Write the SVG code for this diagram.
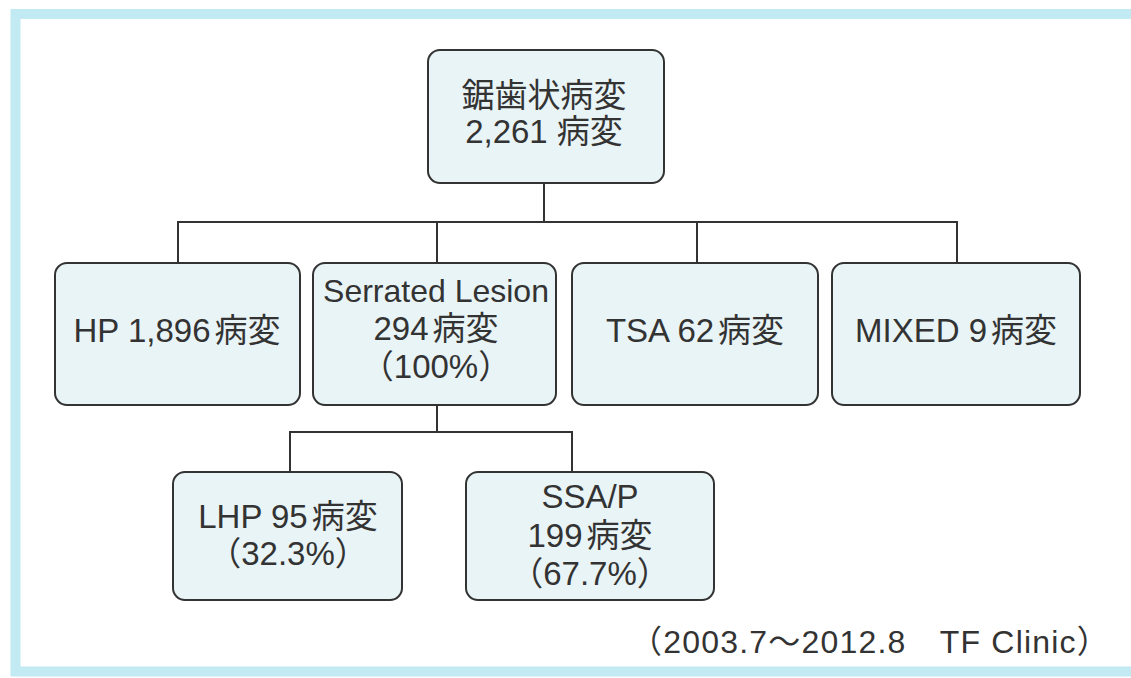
<svg xmlns="http://www.w3.org/2000/svg" width="1131" height="678" viewBox="0 0 1131 678">
<style>
.box{fill:#e9f4f6;stroke:#333;stroke-width:2}
.t{font-family:"Liberation Sans","Noto Sans CJK JP",sans-serif;font-size:33px;fill:#333;text-anchor:middle}
.c{fill:none;stroke:#333;stroke-width:2}
</style>
<rect width="1131" height="678" fill="#fff"/>
<path d="M1131 14 H15.5 V671.5 H1131" fill="none" stroke="#c2eaf2" stroke-width="10"/>
<g id="connectors">
<path class="c" d="M544 183 V222 M178 263 V222 H957 V263 M437 222 V263 M697 222 V263"/>
<path class="c" d="M437 405 V432 M290 472 V432 H572 V472"/>
</g>
<g id="root">
<rect class="box" x="428" y="50" width="236" height="133" rx="12"/>
<text class="t" x="544" y="107">鋸歯状病変</text>
<text class="t" x="544" y="143">2,261 病変</text>
</g>
<g id="hp">
<rect class="box" x="55" y="263" width="245" height="142" rx="12"/>
<text class="t" x="177" y="342">HP 1,896<tspan dx="4">病変</tspan></text>
</g>
<g id="serrated">
<rect class="box" x="313" y="263" width="243" height="142" rx="12"/>
<text class="t" x="436" y="302" style="font-size:32px">Serrated Lesion</text>
<text class="t" x="436" y="340">294<tspan dx="4">病変</tspan></text>
<text class="t" x="436" y="378">（100%）</text>
</g>
<g id="tsa">
<rect class="box" x="572" y="263" width="246" height="142" rx="12"/>
<text class="t" x="695" y="342">TSA 62<tspan dx="4">病変</tspan></text>
</g>
<g id="mixed">
<rect class="box" x="832" y="263" width="248" height="142" rx="12"/>
<text class="t" x="956" y="342">MIXED 9<tspan dx="4">病変</tspan></text>
</g>
<g id="lhp">
<rect class="box" x="173" y="472" width="229" height="128" rx="12"/>
<text class="t" x="288" y="528">LHP 95<tspan dx="4">病変</tspan></text>
<text class="t" x="288" y="565">（32.3%）</text>
</g>
<g id="ssap">
<rect class="box" x="466" y="472" width="248" height="128" rx="12"/>
<text class="t" x="590" y="508">SSA/P</text>
<text class="t" x="590" y="547">199<tspan dx="4">病変</tspan></text>
<text class="t" x="590" y="585">（67.7%）</text>
</g>
<text class="t" x="630" y="653" style="font-size:32px;letter-spacing:1.2px;text-anchor:start">（2003.7～2012.8　TF Clinic）</text>
</svg>
